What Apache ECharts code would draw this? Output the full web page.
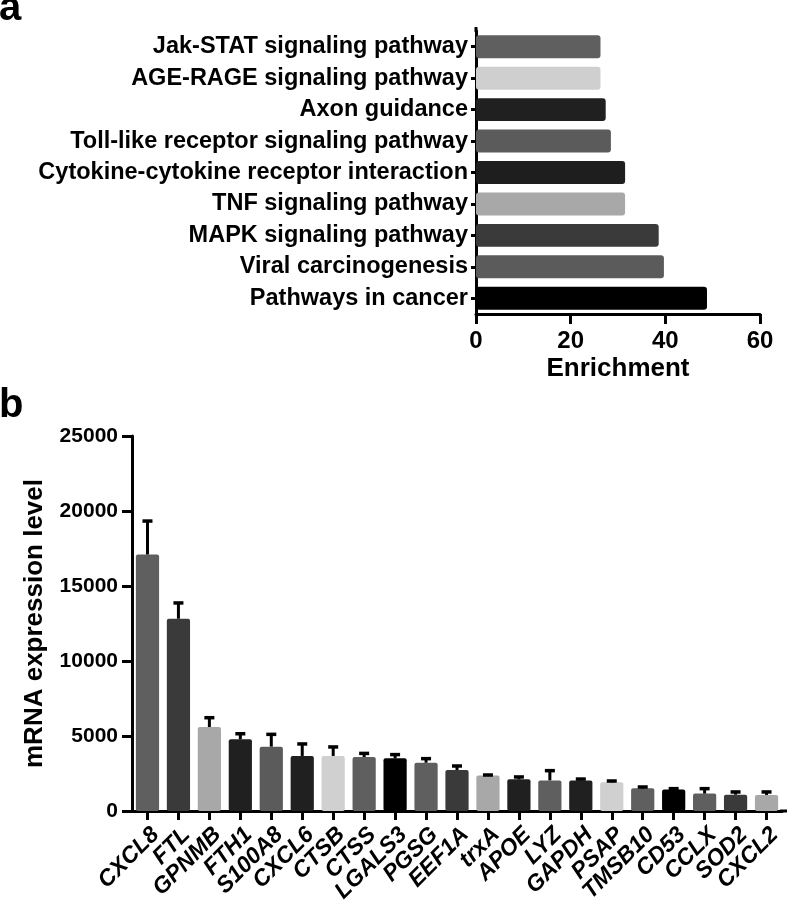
<!DOCTYPE html>
<html><head><meta charset="utf-8">
<script src="https://cdn.jsdelivr.net/npm/echarts@6/dist/echarts.min.js"></script>
<style>html,body{margin:0;padding:0;background:#fff}#c{width:787px;height:910px}</style>
</head><body><div id="c"></div>
<script>
// Panel a data (top to bottom)
const pathways = ["Jak-STAT signaling pathway","AGE-RAGE signaling pathway","Axon guidance","Toll-like receptor signaling pathway","Cytokine-cytokine receptor interaction","TNF signaling pathway","MAPK signaling pathway","Viral carcinogenesis","Pathways in cancer"];
const enrichment = [26.3, 26.3, 27.4, 28.5, 31.5, 31.5, 38.6, 39.7, 48.8];
const pathwayColors = ["#5f5f5f","#cfcfcf","#202020","#5b5b5b","#1e1e1e","#a8a8a8","#3a3a3a","#5b5b5b","#000000"];
const enrichTicks = [0, 20, 40, 60];

// Panel b data
const genes = ["CXCL8","FTL","GPNMB","FTH1","S100A8","CXCL6","CTSB","CTSS","LGALS3","PGSG","EEF1A","trxA","APOE","LYZ","GAPDH","PSAP","TMSB10","CD53","CCLX","SOD2","CXCL2"];
const expression = [17100, 12820, 5600, 4780, 4290, 3670, 3670, 3600, 3510, 3220, 2730, 2360, 2110, 2040, 2040, 1910, 1510, 1440, 1160, 1090, 1070];
const errorTop = [19330, 13870, 6220, 5150, 5110, 4470, 4270, 3840, 3760, 3490, 3000, 2400, 2270, 2690, 2130, 2000, 1600, 1490, 1490, 1270, 1270];
const geneColors = ["#5f5f5f","#3a3a3a","#a8a8a8","#202020","#5b5b5b","#202020","#d0d0d0","#5f5f5f","#000000","#5f5f5f","#3a3a3a","#a8a8a8","#202020","#5f5f5f","#202020","#d0d0d0","#5f5f5f","#000000","#5f5f5f","#3a3a3a","#a8a8a8"];
const exprTicks = [0, 5000, 10000, 15000, 20000, 25000];

const SANS = '"Liberation Sans", Arial, Helvetica, sans-serif';

const chart = echarts.init(document.getElementById('c'), null, {renderer: 'canvas'});
const axisLine = {show: true, lineStyle: {color: '#000', width: 3}};

chart.setOption({
  animation: false,
  graphic: [
    {type: 'text', left: -1, top: -11, style: {text: 'a', font: 'bold 40px ' + SANS, fill: '#000'}},
    {type: 'text', left: -1, top: 386, style: {text: 'b', font: 'bold 40px ' + SANS, fill: '#000'}},
    {type: 'line', shape: {x1: 476, y1: 27, x2: 476, y2: 32}, style: {stroke: '#000', lineWidth: 3}},
    {type: 'line', shape: {x1: 780, y1: 811, x2: 787, y2: 811}, style: {stroke: '#000', lineWidth: 3}}
  ],
  grid: [
    {left: 476, top: 31, width: 284, height: 283},
    {left: 132, top: 436, width: 650, height: 375}
  ],
  xAxis: [
    {type: 'value', gridIndex: 0, min: enrichTicks[0], max: enrichTicks[enrichTicks.length-1], interval: 20,
     axisLine: axisLine, axisTick: {show: true, length: 10, lineStyle: {color: '#000', width: 3}}, splitLine: {show: false},
     axisLabel: {color: '#000', fontFamily: SANS, fontWeight: 'bold', fontSize: 24, margin: 15},
     name: 'Enrichment', nameLocation: 'middle', nameGap: 42,
     nameTextStyle: {color: '#000', fontFamily: SANS, fontWeight: 'bold', fontSize: 26}},
    {type: 'category', gridIndex: 1, data: genes,
     axisLine: axisLine, axisTick: {show: true, length: 9, alignWithLabel: true, lineStyle: {color: '#000', width: 3}},
     axisLabel: {color: '#000', fontFamily: SANS, fontWeight: 'bold', fontStyle: 'italic', fontSize: 23, rotate: 45, margin: 12, interval: 0, verticalAlign: 'top'}}
  ],
  yAxis: [
    {type: 'category', gridIndex: 0, data: pathways, inverse: true,
     axisLine: axisLine, axisTick: {show: true, length: 5, alignWithLabel: true, lineStyle: {color: '#000', width: 3}},
     axisLabel: {color: '#000', fontFamily: SANS, fontWeight: 'bold', fontSize: 23.5, margin: 8, interval: 0}},
    {type: 'value', gridIndex: 1, min: exprTicks[0], max: exprTicks[exprTicks.length-1], interval: 5000,
     axisLine: axisLine, axisTick: {show: true, length: 10, lineStyle: {color: '#000', width: 3}}, splitLine: {show: false},
     axisLabel: {color: '#000', fontFamily: SANS, fontWeight: 'bold', fontSize: 21, margin: 14, formatter: v => String(v)},
     name: 'mRNA expression level', nameLocation: 'middle', nameGap: 84, nameRotate: 90,
     nameTextStyle: {color: '#000', fontFamily: SANS, fontWeight: 'bold', fontSize: 26}}
  ],
  series: [
    {type: 'bar', xAxisIndex: 0, yAxisIndex: 0, barCategoryGap: '27%',
     data: enrichment.map((v, i) => ({value: v, itemStyle: {color: pathwayColors[i], borderRadius: 3}}))},
    {type: 'bar', xAxisIndex: 1, yAxisIndex: 1, barCategoryGap: '25%',
     data: expression.map((v, i) => ({value: v, itemStyle: {color: geneColors[i], borderRadius: 2}}))},
    {type: 'custom', xAxisIndex: 1, yAxisIndex: 1, z: 3,
     data: genes.map((g, i) => [i, expression[i], errorTop[i]]),
     renderItem: function (params, api) {
       const base = api.coord([api.value(0), api.value(1)]);
       const top = api.coord([api.value(0), api.value(2)]);
       const hw = 5;
       return {type: 'group', children: [
         {type: 'line', shape: {x1: base[0], y1: base[1], x2: top[0], y2: top[1]}, style: {stroke: '#000', lineWidth: 3}},
         {type: 'line', shape: {x1: top[0]-hw, y1: top[1], x2: top[0]+hw, y2: top[1]}, style: {stroke: '#000', lineWidth: 3.5}}
       ]};
     }}
  ]
});
</script></body></html>
